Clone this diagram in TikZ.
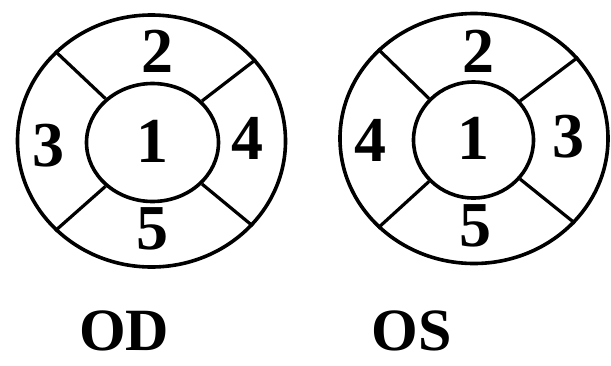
\documentclass[tikz,border=0pt]{standalone}
\usepackage{fontspec}
\setmainfont{Liberation Serif}
\usetikzlibrary{shapes.geometric, positioning}

\begin{document}
\begin{tikzpicture}[
  x=1pt, y=-1pt,
  ring/.style={ellipse, draw, line width=3.6pt, inner sep=0pt},
  bar/.style={line width=3.2pt},
  digit/.style={font=\fontsize{64}{64}\selectfont\bfseries, inner sep=0pt},
  eye/.style={font=\fontsize{60}{60}\selectfont\bfseries, inner sep=0pt},
]
  \useasboundingbox (0,0) rectangle (611,365);

  % right eye
  \node[ring, minimum width=268pt, minimum height=252pt] (odout) at (151.5,141) {};
  \node[ring, minimum width=132pt, minimum height=118pt] (odin)  at (152.5,142.5) {};
  \draw[bar] (odout.38)  -- (odin.40);
  \draw[bar] (odout.137) -- (odin.137);
  \draw[bar] (odout.223) -- (odin.223);
  \draw[bar] (odout.320) -- (odin.320);
  \node[digit] (od1) at (152,141) {1};
  \node[digit] (od2) at (157,51)  {2};
  \node[digit] (od3) at (48,146)  {3};
  \node[digit] (od4) at (247,138) {4};
  \node[digit] (od5) at (152,229) {5};

  % left eye
  \node[ring, minimum width=268pt, minimum height=250pt] (osout) at (474,138.5) {};
  \node[ring, minimum width=120pt, minimum height=116pt] (osin)  at (473.5,140) {};
  \draw[bar] (osout.38)  -- (osin.40);
  \draw[bar] (osout.137) -- (osin.137);
  \draw[bar] (osout.223) -- (osin.223);
  \draw[bar] (osout.320) -- (osin.320);
  \node[digit] (os1) at (473,138) {1};
  \node[digit] (os2) at (478,51)  {2};
  \node[digit] (os3) at (568,137) {3};
  \node[digit] (os4) at (370,140) {4};
  \node[digit] (os5) at (475,226) {5};

  \node[eye] (od) at (124,331) {OD};
  \node[eye] (os) at (412,331) {OS};
\end{tikzpicture}
\end{document}
